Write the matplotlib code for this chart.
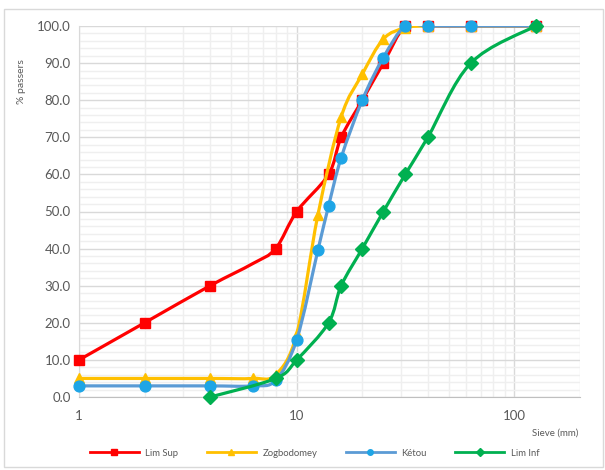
import numpy as np
import matplotlib
matplotlib.use("Agg")
import matplotlib.pyplot as plt
from matplotlib.path import Path
from matplotlib.patches import PathPatch, Rectangle
from matplotlib.lines import Line2D
from matplotlib.ticker import FixedLocator, NullFormatter, FormatStrFormatter

plt.rcParams['font.family'] = ['Lato', 'DejaVu Sans']

# sieve openings (mm) and % passing
sup_x = [1, 2, 4, 6.3, 8, 10, 14, 16, 20, 25, 31.5, 40, 63, 125]
sup_y = [10, 20, 30, 36, 40, 50, 60, 70, 80, 90, 100, 100, 100, 100]

zog_x = [1, 2, 4, 6.3, 8, 10, 12.5, 16, 20, 25, 31.5, 40, 63, 125]
zog_y = [5, 5, 5, 5, 6, 17, 49, 75.5, 87, 96.5, 99.5, 100, 100, 100]

ket_x = [1, 2, 4, 6.3, 8, 10, 12.5, 14, 16, 20, 25, 31.5, 40, 63, 125]
ket_y = [3, 3, 3, 3, 4.5, 15.5, 39.5, 51.5, 64.5, 80, 91.5, 100, 100, 100, 100]

inf_x = [4, 8, 10, 14, 16, 20, 25, 31.5, 40, 63, 125]
inf_y = [0, 5, 10, 20, 30, 40, 50, 60, 70, 90, 100]


def smooth_path(xs, ys):
    # Catmull-Rom style bezier through the points, built in log10(x) space
    u = np.log10(np.asarray(xs, float))
    v = np.asarray(ys, float)
    P = np.column_stack([u, v])
    n = len(P)
    verts = [P[0]]
    codes = [Path.MOVETO]
    for i in range(n - 1):
        p0 = P[i - 1] if i > 0 else P[i]
        p1, p2 = P[i], P[i + 1]
        p3 = P[i + 2] if i + 2 < n else P[i + 1]
        c1 = p1 + (p2 - p0) / 6
        c2 = p2 - (p3 - p1) / 6
        verts += [c1, c2, p2]
        codes += [Path.CURVE4] * 3
    verts = np.array(verts)
    verts[:, 0] = 10 ** verts[:, 0]
    return Path(verts, codes)


fig = plt.figure(figsize=(6.05, 4.7), dpi=100)
fig.patches.append(Rectangle((0.006, 0.006), 0.99, 0.975, transform=fig.transFigure,
                             fill=False, edgecolor='#d9d9d9', lw=1))
ax = fig.add_axes([0.1306, 0.1553, 0.8281, 0.7894])

series = [
    ("Lim Sup", sup_x, sup_y, '#ff0000', '#ff0000', 's', 7.8),
    ("Zogbodomey", zog_x, zog_y, '#ffc000', '#ffc000', '^', 7.8),
    ("Kétou", ket_x, ket_y, '#5b9bd5', '#1ea5e6', 'o', 7.8),
    ("Lim Inf", inf_x, inf_y, '#00b050', '#00b050', 'D', 6.8),
]

handles = []
for z, (label, x, y, lc, mc, mk, ms) in enumerate(series):
    ax.add_patch(PathPatch(smooth_path(x, y), fill=False, edgecolor=lc, lw=2.3,
                           capstyle='round', joinstyle='round', zorder=3 + z))
    # Lim Sup has no marker on the 6.3 mm sieve
    marks = [i for i, xv in enumerate(x) if not (label == "Lim Sup" and xv == 6.3)]
    ax.plot(np.array(x)[marks], np.array(y)[marks], ls='none', marker=mk, ms=ms,
            mfc=mc, mec=mc, zorder=3.5 + z, clip_on=False)
    handles.append(Line2D([], [], color=lc, lw=2, marker=mk, ms=4, mfc=mc, mec=mc))

ax.set_xscale('log')
ax.set_xlim(1, 200)
ax.set_ylim(0, 100)
ax.yaxis.set_major_locator(FixedLocator(np.arange(0, 101, 10)))
ax.yaxis.set_minor_locator(FixedLocator(np.arange(0, 101, 2)))
ax.yaxis.set_major_formatter(FormatStrFormatter('%.1f'))
ax.xaxis.set_major_locator(FixedLocator([1, 10, 100]))
ax.xaxis.set_major_formatter(FormatStrFormatter('%g'))
ax.xaxis.set_minor_locator(FixedLocator([k * 10 ** d for d in range(3) for k in range(2, 10)]))
ax.xaxis.set_minor_formatter(NullFormatter())

ax.grid(True, which='major', color='#d9d9d9', lw=1)
ax.grid(True, which='minor', color='#efefef', lw=1)
ax.set_axisbelow(True)
for s in ax.spines.values():
    s.set_visible(False)
ax.spines['bottom'].set_visible(True)
ax.spines['bottom'].set_color('#bfbfbf')
ax.spines['left'].set_visible(True)
ax.spines['left'].set_color('#d9d9d9')
ax.tick_params(which='both', length=0, labelsize=9.5, colors='#595959')
ax.tick_params(axis='x', which='major', pad=9)
ax.tick_params(axis='y', pad=6)

fig.text(22 / 605, 1 - 82 / 470, "% passers", rotation=90, ha='center', va='center',
         fontsize=7.5, color='#595959')
fig.text(555 / 605, 1 - 433 / 470, "Sieve (mm)", ha='center', va='center',
         fontsize=7, color='#595959')

fig.legend(handles, [s[0] for s in series], loc='center', ncol=4,
           bbox_to_anchor=(0.52, 1 - 453 / 470), frameon=False, fontsize=6.8,
           handlelength=5.2, columnspacing=3.0, handletextpad=0.7,
           labelcolor='#595959')

fig.savefig("out.png", dpi=100)
